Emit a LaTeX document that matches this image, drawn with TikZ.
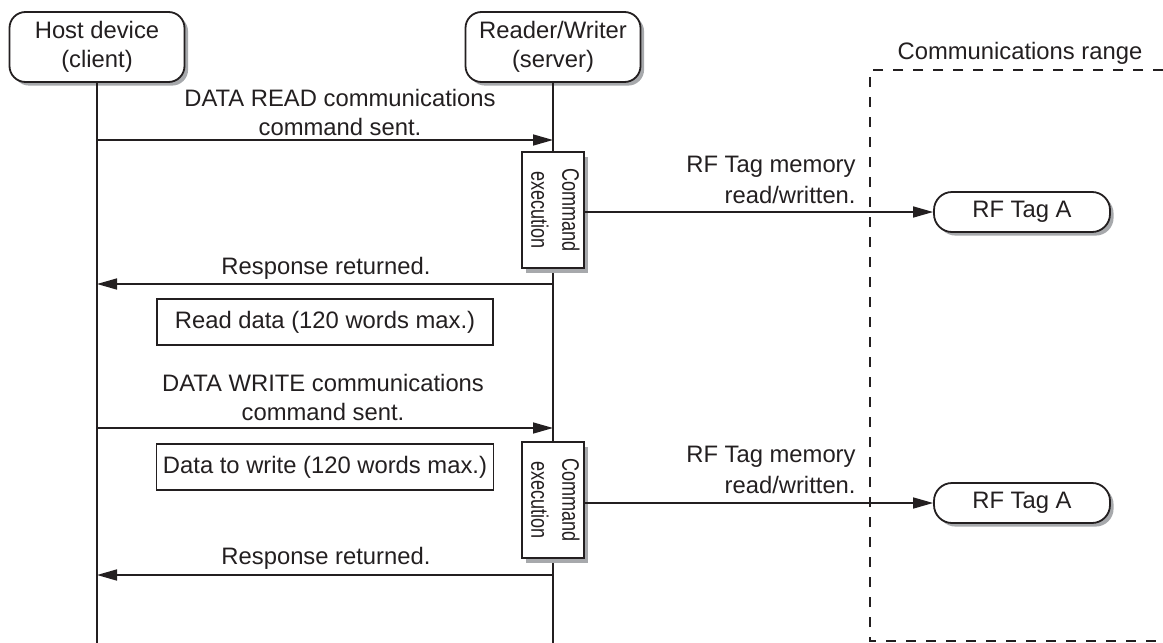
\documentclass[tikz,border=0pt]{standalone}
\usepackage{fontspec}
\setmainfont{Liberation Sans}
\newfontfamily\narrowsf[FakeStretch=0.76]{Liberation Sans}
\usepackage{tikz}
\usetikzlibrary{arrows.meta,shadows}

\definecolor{ink}{HTML}{231F20}
\definecolor{shade}{HTML}{A7A9AC}

\tikzset{
  actor/.style={draw=ink, line width=0.9pt, rounded corners=8pt, fill=white,
    minimum width=87.5pt, minimum height=35pt, align=center,
    font=\fontsize{11.9}{14.5}\selectfont,
    drop shadow={shadow xshift=1.8pt, shadow yshift=-1.8pt, fill=shade, opacity=1}},
  tagbox/.style={actor, minimum width=88pt, minimum height=20pt, rounded corners=9pt},
  execbox/.style={draw=ink, line width=0.6pt, fill=white, minimum width=26pt,
    minimum height=58pt, inner sep=0pt,
    drop shadow={shadow xshift=2pt, shadow yshift=-2.5pt, fill=shade, opacity=1}},
  databox/.style={draw=ink, line width=0.6pt, minimum width=168pt, minimum height=23pt},
  msg/.style={draw=ink, line width=0.8pt, -{Triangle[length=10pt,width=5.5pt]}},
  lifeline/.style={draw=ink, line width=0.8pt},
  lbl/.style={align=center, inner sep=1pt, font=\fontsize{11.9}{14.5}\selectfont},
}

\newcommand{\execlabel}{\rotatebox{-90}{\narrowsf\fontsize{11.9}{15.5}\selectfont
  \begin{tabular}{@{}c@{}}Command\\execution\end{tabular}}}

\begin{document}
\begin{tikzpicture}[x=0.5pt, y=-0.5pt, font=\fontsize{11.9}{14.5}\selectfont, text=ink]
\useasboundingbox (0,0) rectangle (1163,643);

% communications range
\draw[ink, line width=0.8pt, dash pattern=on 5pt off 5pt]
  (1163,70) -- (870,70) -- (870,641) -- (1163,641);
\node[lbl] (range) at (1020,53) {Communications range};

% host and reader/writer with lifelines
\node[actor] (host) at (97,47) {Host device\\(client)};
\node[actor] (rw) at (553,47) {Reader/Writer\\(server)};
\coordinate (hostEnd) at (97,643);
\coordinate (rwEnd) at (553,643);
\draw[lifeline] (host) -- (hostEnd);
\draw[lifeline] (rw) -- (rwEnd);

% message points on the lifelines
\coordinate (hRead) at (97,140);   \coordinate (rRead) at (553,140);
\coordinate (hResp1) at (97,284);  \coordinate (rResp1) at (553,284);
\coordinate (hWrite) at (97,428);  \coordinate (rWrite) at (553,428);
\coordinate (hResp2) at (97,575);  \coordinate (rResp2) at (553,575);

% DATA READ
\draw[msg] (hRead) -- (rRead);
\node[lbl, anchor=south] (readCmd) at (340,138) {DATA READ communications\\command sent.};
\node[execbox] (exec1) at (553,210) {\execlabel};
\node[tagbox] (tagA1) at (1022,212) {RF Tag A};
\draw[msg] (exec1.east |- tagA1) -- (tagA1);
\node[lbl, anchor=south east, align=right, font=\fontsize{11.9}{15.5}\selectfont]
  (rfMem1) at (858,206) {RF Tag memory\\read/written.};
\draw[msg] (rResp1) -- (hResp1);
\node[lbl, anchor=south] (resp1) at (326,282) {Response returned.};
\node[databox] (readData) at (325,322) {Read data (120 words max.)};

% DATA WRITE
\draw[msg] (hWrite) -- (rWrite);
\node[lbl, anchor=south] (writeCmd) at (323,423) {DATA WRITE communications\\command sent.};
\node[databox] (writeData) at (325,467) {Data to write (120 words max.)};
\node[execbox] (exec2) at (553,500) {\execlabel};
\node[tagbox] (tagA2) at (1022,503) {RF Tag A};
\draw[msg] (exec2.east |- tagA2) -- (tagA2);
\node[lbl, anchor=south east, align=right, font=\fontsize{11.9}{15.5}\selectfont]
  (rfMem2) at (858,496) {RF Tag memory\\read/written.};
\draw[msg] (rResp2) -- (hResp2);
\node[lbl, anchor=south] (resp2) at (326,572) {Response returned.};
\end{tikzpicture}
\end{document}
